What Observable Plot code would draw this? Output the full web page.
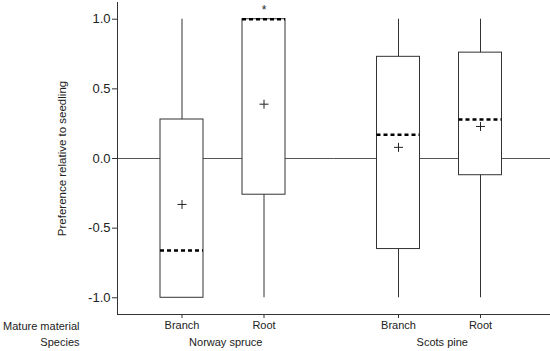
<!DOCTYPE html>
<html>
<head>
<meta charset="utf-8">
<script src="https://cdn.jsdelivr.net/npm/d3@7"></script>
<script src="https://cdn.jsdelivr.net/npm/@observablehq/plot@0.6"></script>
<style>
  html, body { margin: 0; padding: 0; background: #fff; }
  #chart svg { display: block; }
</style>
</head>
<body>
<div id="chart"></div>
<script>
// ---- data ----
const species      = ["Norway spruce", "Norway spruce", "Scots pine", "Scots pine"];
const material     = ["Branch", "Root", "Branch", "Root"];
const whiskerLow   = [-1.0, -1.0, -1.0, -1.0];
const q1           = [-1.0, -0.26, -0.65, -0.12];
const median       = [-0.66, 1.0, 0.17, 0.28];
const q3           = [0.28, 1.0, 0.73, 0.76];
const whiskerHigh  = [1.0, 1.0, 1.0, 1.0];
const mean         = [-0.33, 0.39, 0.08, 0.23];
const flag         = ["", "*", "", ""];
const yTicks       = [-1.0, -0.5, 0.0, 0.5, 1.0];
const speciesOrder = ["Norway spruce", "Scots pine"];
const materialOrder = ["Branch", "Root"];
const rowLabels    = ["Mature material", "Species"];
const yLabel       = "Preference relative to seedling";

const data = species.map((s, i) => ({
  species: s, material: material[i],
  lo: whiskerLow[i], q1: q1[i], med: median[i], q3: q3[i], hi: whiskerHigh[i],
  mean: mean[i], flag: flag[i]
}));

const plusSymbol = {
  draw(context, size) {
    const r = Math.sqrt(size / Math.PI);
    context.moveTo(-r, 0); context.lineTo(r, 0);
    context.moveTo(0, -r); context.lineTo(0, r);
  }
};

const ink = "#333";
const yDomain = [-1.12, 1.12];

const chart = Plot.plot({
  width: 550,
  height: 351,
  marginTop: 2,
  marginBottom: 37,
  marginLeft: 117,
  marginRight: 0,
  style: { fontFamily: "'Liberation Sans', Arial, sans-serif", color: "#222", background: "#fff" },
  fx: { domain: speciesOrder, padding: 0, round: false, axis: null },
  x: { domain: materialOrder, paddingInner: 0.474, paddingOuter: 0.546, align: 0.47, axis: null },
  y: { domain: yDomain, axis: null },
  marks: [
    Plot.ruleY([0], { stroke: "#555", strokeWidth: 1 }),
    Plot.ruleX(data, { fx: "species", x: "material", y1: "lo", y2: "hi", stroke: ink, strokeWidth: 1 }),
    Plot.barY(data, { fx: "species", x: "material", y1: "q1", y2: "q3", fill: "#fff", stroke: ink, strokeWidth: 1 }),
    Plot.tickY(data, { fx: "species", x: "material", y: "med", stroke: "#000", strokeWidth: 2.5, strokeDasharray: "4,3" }),
    Plot.dot(data, { fx: "species", x: "material", y: "mean", symbol: plusSymbol, r: 4.5, fill: "none", stroke: "#222", strokeWidth: 1 }),
    Plot.text(data.filter(d => d.flag), { fx: "species", x: "material", y: "hi", text: "flag", dy: -9, fontSize: 12, fill: "#222" }),
    Plot.frame({ anchor: "left", facetAnchor: "left", stroke: ink }),
    Plot.frame({ anchor: "bottom", stroke: ink }),
    Plot.axisY({ ticks: yTicks, tickFormat: d => d.toFixed(1), tickSize: 5, tickPadding: 2, fontSize: 13, label: null, stroke: ink }),
    Plot.axisX({ anchor: "bottom", tickSize: 4, tickPadding: 3, fontSize: 11, label: null, stroke: ink }),
    Plot.axisFx({ anchor: "bottom", tickSize: 0, tickPadding: 24, fontSize: 11, label: null }),
    Plot.text([yLabel], { frameAnchor: "left", facetAnchor: "left", dx: -55, rotate: -90, textAnchor: "middle", lineAnchor: "middle", fontSize: 11.5, text: d => d, fill: "#222" }),
    Plot.text([rowLabels[0]], { frameAnchor: "bottom-left", facetAnchor: "left", dx: -38, dy: 12, text: d => d, textAnchor: "end", lineAnchor: "middle", fontSize: 11, fill: "#222" }),
    Plot.text([rowLabels[1]], { frameAnchor: "bottom-left", facetAnchor: "left", dx: -38, dy: 28, text: d => d, textAnchor: "end", lineAnchor: "middle", fontSize: 11, fill: "#222" })
  ]
});
document.getElementById("chart").appendChild(chart);
</script>
</body>
</html>
